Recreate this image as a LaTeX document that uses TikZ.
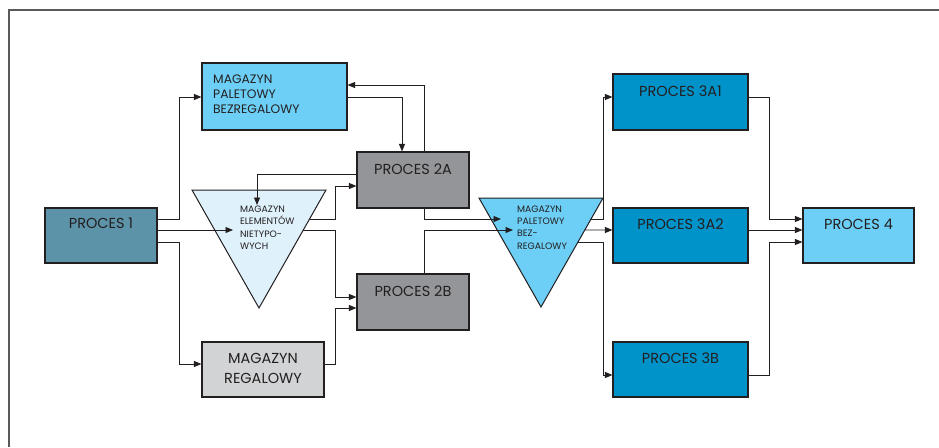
\documentclass[tikz,border=0pt]{standalone}
\usepackage{fontspec}
\setmainfont{Poppins}
\usetikzlibrary{arrows.meta,calc}
\definecolor{ink}{HTML}{231F20}
\definecolor{frame}{HTML}{58595B}
\definecolor{cteal}{HTML}{5D93A8}
\definecolor{clight}{HTML}{6DCFF6}
\definecolor{cgray}{HTML}{939598}
\definecolor{cpale}{HTML}{DFF1FB}
\definecolor{csilver}{HTML}{D1D3D4}
\definecolor{cblue}{HTML}{0093C9}
\begin{document}
\begin{tikzpicture}[x=1pt,y=-1pt,
  box/.style={draw=ink, line width=1.1pt, inner sep=0pt},
  lbl/.style={text=ink, inner sep=0pt, anchor=base, font=\fontsize{14.5}{20}\selectfont},
  small/.style={text=ink, inner sep=0pt, align=left, anchor=base west, font=\fontsize{9.3}{12.3}\selectfont},
  tri/.style={draw=ink, line width=1pt, line join=miter},
  arr/.style={draw=ink, line width=0.9pt, -{Triangle[length=7.5pt,width=6pt]}}
]
\useasboundingbox (0,0) rectangle (939,447);
% frame
\draw[frame, line width=1.3pt] (9,447) -- (9,10) -- (939,10);

% level coordinates
\foreach \v in {85,97,174,186,219,230,242,297,308,364,375}{\coordinate (y\v) at (0,\v);}
\coordinate (x402) at (402,0);
\coordinate (x424) at (424,0);

% triangles
\coordinate (t1a) at (192,190);
\coordinate (t1b) at (326,190);
\coordinate (t1c) at (259,308);
\draw[tri, fill=cpale] (t1a) -- (t1b) -- (t1c) -- cycle;
\coordinate (t1r1) at ($(t1b)!0.2458!(t1c)$);
\coordinate (t1r2) at ($(t1b)!0.3390!(t1c)$);
\coordinate (t1in) at (233,230);
\coordinate (t1top) at (257,205);
\node[small] (t1t) at (240,249.5) {MAGAZYN\\ELEMENTÓW\\NIETYPO-\\WYCH};

\coordinate (t2a) at (479,198);
\coordinate (t2b) at (603,198);
\coordinate (t2c) at (541,307);
\draw[tri, fill=clight] (t2a) -- (t2b) -- (t2c) -- cycle;
\coordinate (t2r1) at ($(t2b)!0.1927!(t2c)$);
\coordinate (t2r2) at ($(t2b)!0.2936!(t2c)$);
\coordinate (t2r3) at ($(t2b)!0.4037!(t2c)$);
\coordinate (t2in1) at (501,219);
\coordinate (t2in2) at (513,230);
\node[small] (t2t) at (517,249) {MAGAZYN\\PALETOWY\\BEZ-\\REGALOWY};

% boxes
\node[box, fill=cteal,  minimum width=112pt, minimum height=55pt] (p1)   at (101,235.5) {};
\node[box, fill=clight, minimum width=145pt, minimum height=67pt] (mpb)  at (274.5,96.5) {};
\node[box, fill=cgray,  minimum width=112pt, minimum height=56pt] (p2a)  at (413,180) {};
\node[box, fill=cgray,  minimum width=112pt, minimum height=56pt] (p2b)  at (413,302) {};
\node[box, fill=csilver,minimum width=122pt, minimum height=55pt] (mr)   at (263,369.5) {};
\node[box, fill=cblue,  minimum width=135pt, minimum height=56pt] (p3a1) at (680.5,102) {};
\node[box, fill=cblue,  minimum width=135pt, minimum height=55pt] (p3a2) at (680.5,235.5) {};
\node[box, fill=cblue,  minimum width=135pt, minimum height=55pt] (p3b)  at (680.5,369.5) {};
\node[box, fill=clight, minimum width=111pt, minimum height=55pt] (p4)   at (858.5,235.5) {};

% labels
\node[lbl] (p1t)   at (101,228.5) {PROCES 1};
\node[lbl] (p2at)  at (413,174) {PROCES 2A};
\node[lbl] (p2bt)  at (413,296) {PROCES 2B};
\node[lbl] (p3a1t) at (680.5,96.5) {PROCES 3A1};
\node[lbl] (p3a2t) at (680.5,229.5) {PROCES 3A2};
\node[lbl] (p3bt)  at (680.5,363) {PROCES 3B};
\node[lbl] (p4t)   at (858.5,229) {PROCES 4};
\node[lbl, align=center] (mrt) at (263,383) {MAGAZYN\\REGALOWY};
\node[small, font=\fontsize{12.3}{15}\selectfont] (mpbt) at (213,113) {MAGAZYN\\PALETOWY\\BEZREGALOWY};

% connectors
\draw[arr] (p1.east |- y219) -| (179,97) -- (mpb.west |- y97);
\draw[arr] (p1.east |- y230) -- (t1in);
\draw[arr] (p1.east |- y242) -| (179,364) -- (mr.west |- y364);
\draw[arr] (mpb.east |- y97) -| (x402 |- p2a.north);
\draw[arr] (x424 |- p2a.north) |- (mpb.east |- y85);
\draw[arr] (p2a.west |- y174) -| (t1top);
\draw[arr] (t1r1) -| (335,186) -- (p2a.west |- y186);
\draw[arr] (t1r2) -| (335,297) -- (p2b.west |- y297);
\draw[arr] (mr.east |- y364) -| (335,308) -- (p2b.west |- y308);
\draw[arr] (x424 |- p2a.south) |- (t2in1);
\draw[arr] (x424 |- p2b.north) |- (t2in2);
\draw[arr] (t2r1) -| (603,97) -- (p3a1.west |- y97);
\draw[arr] (t2r2) -- (p3a2.west |- y230);
\draw[arr] (t2r3) -| (603,375) -- (p3b.west |- y375);
\draw[arr] (p3a1.east |- y97) -| (769,219) -- (p4.west |- y219);
\draw[arr] (p3a2.east |- y230) -- (p4.west |- y230);
\draw[arr] (p3b.east |- y375) -| (769,242) -- (p4.west |- y242);
\end{tikzpicture}
\end{document}
